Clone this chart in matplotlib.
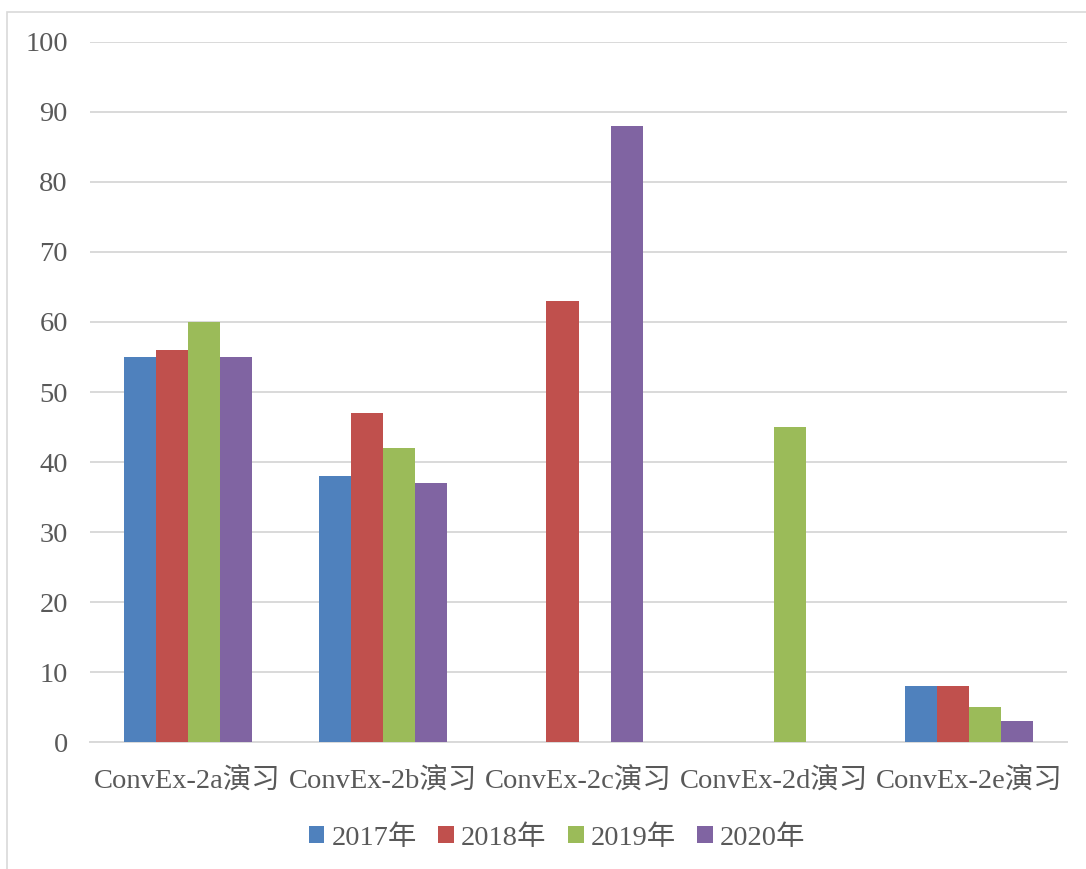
import numpy as np
import matplotlib
matplotlib.use("Agg")
import matplotlib.pyplot as plt
from matplotlib.patches import Rectangle

plt.rcParams['font.family'] = ['Liberation Serif', 'Noto Sans CJK SC']

categories = ["ConvEx-2a演习", "ConvEx-2b演习", "ConvEx-2c演习", "ConvEx-2d演习", "ConvEx-2e演习"]
series_names = ["2017年", "2018年", "2019年", "2020年"]
v2017 = [55, 38, np.nan, np.nan, 8]
v2018 = [56, 47, 63, np.nan, 8]
v2019 = [60, 42, np.nan, 45, 5]
v2020 = [55, 37, 88, np.nan, 3]
colors = ["#4F81BD", "#C0504D", "#9BBB59", "#8064A2"]
yticks = [0, 10, 20, 30, 40, 50, 60, 70, 80, 90, 100]

text_color = "#595959"
grid_color = "#D9D9D9"

fig = plt.figure(figsize=(10.86, 8.69), dpi=100)
ax = fig.add_axes([0.0829, 0.1461, 0.8996, 0.8056])

x = np.arange(len(categories))
width = 0.164
all_series = [v2017, v2018, v2019, v2020]
for i, (vals, name, col) in enumerate(zip(all_series, series_names, colors)):
    offs = (i - 1.5) * width
    ax.bar(x + offs, np.nan_to_num(vals, nan=0.0), width=width, color=col,
           label=name, zorder=3, linewidth=0)

ax.set_xlim(-0.5, len(categories) - 0.5)
ax.set_ylim(0, 100)
ax.set_yticks(yticks)
ax.set_yticklabels([str(t) for t in yticks])
ax.set_xticks(x)
ax.set_xticklabels(categories)
ax.yaxis.grid(True, color=grid_color, linewidth=1.4, zorder=0)
ax.set_axisbelow(True)
for s in ["top", "right", "left"]:
    ax.spines[s].set_visible(False)
ax.spines["bottom"].set_color(grid_color)
ax.spines["bottom"].set_linewidth(1.4)
ax.tick_params(axis="both", length=0, colors=text_color, labelsize=20.5)
ax.tick_params(axis="y", pad=16)
ax.tick_params(axis="x", pad=19)

leg = fig.legend(loc="center", bbox_to_anchor=(0.513, 0.036), ncol=4, frameon=False,
                 fontsize=20.5, handlelength=0.55, handleheight=0.55,
                 handletextpad=0.25, columnspacing=0.75)
for t in leg.get_texts():
    t.set_color(text_color)

# chart outline
fig.patches.append(Rectangle((7 / 1086, -0.1), 1.2, (869 - 12) / 869 + 0.1,
                             transform=fig.transFigure, fill=False,
                             edgecolor="#D9D9D9", linewidth=1.2))

fig.savefig("out.png", dpi=100)
